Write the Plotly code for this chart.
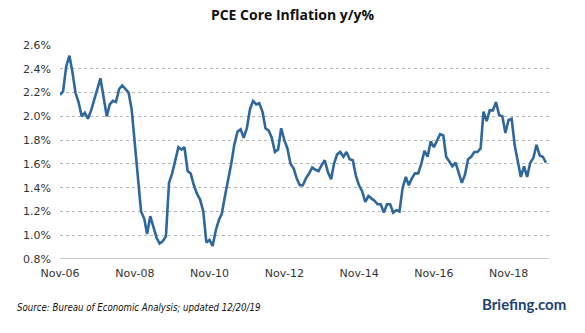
import plotly.graph_objects as go
import pandas as pd

start_month = "2006-11-01"
core_pce = [
    2.18, 2.21, 2.42, 2.51, 2.38, 2.20, 2.12, 2.00, 2.03, 1.98,
    2.05, 2.13, 2.23, 2.32, 2.15, 2.00, 2.10, 2.13, 2.12, 2.23,
    2.26, 2.23, 2.20, 2.06, 1.78, 1.50, 1.20, 1.14, 1.01, 1.16,
    1.06, 0.98, 0.93, 0.95, 0.99, 1.44, 1.52, 1.62, 1.74, 1.72,
    1.74, 1.54, 1.52, 1.42, 1.35, 1.30, 1.20, 0.94, 0.96, 0.91,
    1.04, 1.13, 1.18, 1.33, 1.45, 1.60, 1.76, 1.87, 1.89, 1.82,
    1.90, 2.06, 2.13, 2.10, 2.11, 2.04, 1.90, 1.88, 1.82, 1.70,
    1.72, 1.90, 1.80, 1.73, 1.60, 1.56, 1.48, 1.42, 1.42, 1.48,
    1.52, 1.57, 1.55, 1.54, 1.59, 1.63, 1.53, 1.47, 1.60, 1.68,
    1.70, 1.66, 1.70, 1.64, 1.63, 1.50, 1.42, 1.37, 1.28, 1.33,
    1.31, 1.29, 1.26, 1.26, 1.19, 1.26, 1.26, 1.19, 1.21, 1.20,
    1.40, 1.49, 1.42, 1.48, 1.52, 1.52, 1.60, 1.71, 1.66, 1.79,
    1.74, 1.79, 1.85, 1.84, 1.66, 1.62, 1.58, 1.61, 1.53, 1.44,
    1.51, 1.64, 1.66, 1.70, 1.70, 1.73, 2.04, 1.96, 2.05, 2.05,
    2.12, 2.01, 2.00, 1.86, 1.97, 1.98, 1.75, 1.62, 1.49, 1.58,
    1.49, 1.61, 1.65, 1.76, 1.67, 1.66, 1.61,
]
tick_dates = ["2006-11-01", "2008-11-01", "2010-11-01", "2012-11-01",
              "2014-11-01", "2016-11-01", "2018-11-01"]
tick_labels = ["Nov-06", "Nov-08", "Nov-10", "Nov-12", "Nov-14", "Nov-16", "Nov-18"]
y_ticks = [0.8, 1.0, 1.2, 1.4, 1.6, 1.8, 2.0, 2.2, 2.4, 2.6]
y_labels = [f"{v:.1f}%" for v in y_ticks]

dates = pd.date_range(start_month, periods=len(core_pce), freq="MS")

fig = go.Figure()
fig.add_trace(go.Scatter(
    x=dates, y=core_pce, mode="lines",
    line=dict(color="#2e679b", width=2.6),
    hoverinfo="skip", showlegend=False,
))

fig.update_layout(
    width=585, height=333,
    margin=dict(l=60, r=36, t=45, b=74),
    paper_bgcolor="white", plot_bgcolor="white",
    font=dict(family="DejaVu Sans", size=11, color="#333333"),
    title=dict(
        text="<b>PCE Core Inflation y/y%</b>",
        x=0.5, xanchor="center", y=0.955, yanchor="middle",
        font=dict(family="Open Sans", size=14, color="#111111"),
    ),
    xaxis=dict(
        range=[dates[0], pd.Timestamp("2019-12-01")],
        tickvals=tick_dates, ticktext=tick_labels,
        showgrid=False, showline=False, zeroline=False,
        ticks="", ticklabelstandoff=6,
        tickfont=dict(size=11, color="#333333"),
    ),
    yaxis=dict(
        range=[0.8, 2.6],
        tickvals=y_ticks, ticktext=y_labels,
        showgrid=True, gridcolor="#b5b5b5", griddash="dot", gridwidth=1,
        zeroline=False, showline=False, ticks="",
        ticklabelstandoff=8,
        tickfont=dict(size=11, color="#333333"),
    ),
    shapes=[dict(
        type="line", xref="paper", yref="y", x0=0, x1=1, y0=0.8, y1=0.8,
        line=dict(color="#c8c8c8", width=2), layer="above",
    )],
    annotations=[
        dict(text="<i>Source: Bureau of Economic Analysis; updated 12/20/19</i>",
             xref="paper", yref="paper", x=-0.093, y=-0.225,
             xanchor="left", yanchor="middle", showarrow=False,
             font=dict(family="DejaVu Sans Condensed", size=9.6, color="#111111")),
        dict(text="<b>Briefing.com</b>",
             xref="paper", yref="paper", x=1.038, y=-0.21,
             xanchor="right", yanchor="middle", showarrow=False,
             font=dict(family="Lato", size=15, color="#1d4270")),
    ],
)

fig.write_html("out.html")
